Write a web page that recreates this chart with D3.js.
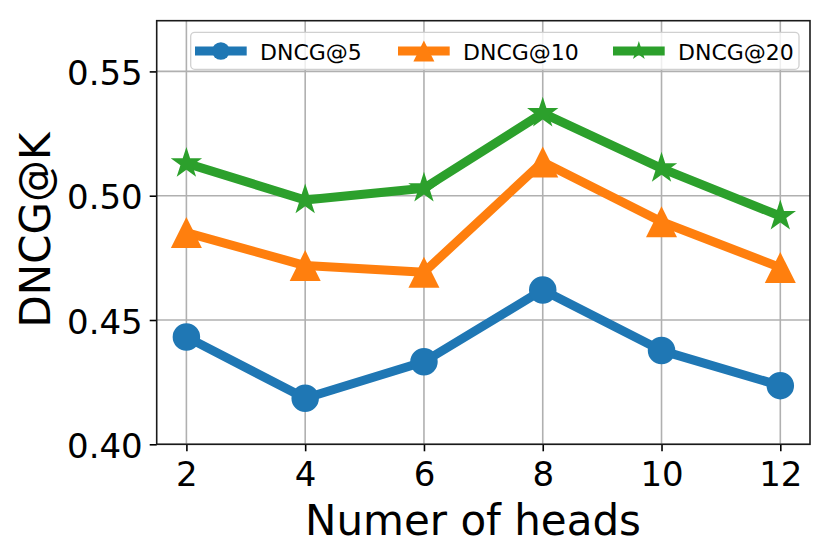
<!DOCTYPE html>
<html><head><meta charset="utf-8">
<script src="https://cdn.jsdelivr.net/npm/d3@7"></script>
<style>body{margin:0;background:#fff}svg{display:block}text{font-family:"DejaVu Sans",sans-serif}</style>
</head><body>
<svg id="c" width="831" height="558"></svg>
<script>
const heads = [2, 4, 6, 8, 10, 12];
const ndcg5 = [0.4432, 0.4185, 0.4332, 0.4621, 0.4377, 0.4236];
const ndcg10 = [0.4852, 0.4719, 0.4692, 0.5136, 0.4895, 0.4711];
const ndcg20 = [0.5130, 0.4983, 0.5030, 0.5332, 0.5110, 0.4918];
const seriesNames = ["DNCG@5", "DNCG@10", "DNCG@20"];
const xTicks = [2, 4, 6, 8, 10, 12];
const yTicks = [0.40, 0.45, 0.50, 0.55];
const xLabel = "Numer of heads";
const yLabel = "DNCG@K";

const colors = ["#1f77b4", "#ff7f0e", "#2ca02c"];
const markers = ["circle", "triangle", "star"];
const svg = d3.select("#c");
const L = 156.7, R = 810, T = 20.7, B = 444.3;
const x = d3.scaleLinear().domain([1.5, 12.5]).range([L, R]);
const y = d3.scaleLinear().domain([0.40, 0.5704]).range([B, T]);

function markerPath(type, s) {
  if (type === "circle") {
    const r = s / 2;
    return `M${r},0A${r},${r} 0 1,1 ${-r},0A${r},${r} 0 1,1 ${r},0Z`;
  }
  if (type === "triangle") {
    const h = s / 2;
    return `M0,${-h}L${h},${h}L${-h},${h}Z`;
  }
  const Ro = s / 2, Ri = Ro * 0.381966;
  let p = "";
  for (let i = 0; i < 10; i++) {
    const r = i % 2 ? Ri : Ro;
    const a = -Math.PI / 2 + i * Math.PI / 5;
    p += (i ? "L" : "M") + (r * Math.cos(a)).toFixed(2) + "," + (r * Math.sin(a)).toFixed(2);
  }
  return p + "Z";
}
const mSize = { circle: 27.5, triangle: 31, star: 33 };
const legSize = { circle: 17.7, triangle: 21, star: 20 };

// grid
const grid = svg.append("g");
grid.selectAll("line.gx").data(xTicks).join("line")
  .attr("x1", d => x(d)).attr("x2", d => x(d)).attr("y1", T).attr("y2", B)
  .attr("stroke", "#b0b0b0").attr("stroke-width", 1.6);
grid.selectAll("line.gy").data(yTicks).join("line")
  .attr("y1", d => y(d)).attr("y2", d => y(d)).attr("x1", L).attr("x2", R)
  .attr("stroke", "#b0b0b0").attr("stroke-width", 1.6);

// series
const data = [ndcg5, ndcg10, ndcg20];
const line = d3.line().x(d => x(d[0])).y(d => y(d[1]));
data.forEach((vals, i) => {
  const pts = heads.map((h, j) => [h, vals[j]]);
  const g = svg.append("g");
  g.append("path").attr("d", line(pts)).attr("fill", "none")
    .attr("stroke", colors[i]).attr("stroke-width", 9).attr("stroke-linejoin", "round").attr("stroke-linecap", "square");
  g.selectAll("path.m").data(pts).join("path").attr("class", "m")
    .attr("transform", d => `translate(${x(d[0])},${y(d[1])})`)
    .attr("d", markerPath(markers[i], mSize[markers[i]]))
    .attr("fill", colors[i]);
});

// axes
const xAxis = d3.axisBottom(x).tickValues(xTicks).tickSize(7).tickPadding(6).tickFormat(d3.format("d"));
const yAxis = d3.axisLeft(y).tickValues(yTicks).tickSize(7).tickPadding(8).tickFormat(d3.format(".2f"));
const gx = svg.append("g").attr("transform", `translate(0,${B})`).call(xAxis);
const gy = svg.append("g").attr("transform", `translate(${L},0)`).call(yAxis);
[gx, gy].forEach(g => {
  g.select(".domain").remove();
  g.selectAll(".tick line").attr("stroke", "#000").attr("stroke-width", 1.6);
  g.selectAll(".tick text").attr("font-size", 34).attr("fill", "#000").attr("font-family", "DejaVu Sans");
});
gx.selectAll(".tick text").attr("dy", null).attr("y", 42);
gy.selectAll(".tick text").attr("dy", null).attr("y", 13).attr("x", -14);

svg.append("rect").attr("x", L).attr("y", T).attr("width", R - L).attr("height", B - T)
  .attr("fill", "none").attr("stroke", "#1a1a1a").attr("stroke-width", 1.6);

// labels
svg.append("text").attr("x", 473).attr("y", 535).attr("text-anchor", "middle")
  .attr("font-size", 42).text(xLabel);
svg.append("text").attr("transform", "translate(50,230) rotate(-90)").attr("text-anchor", "middle")
  .attr("font-size", 42).text(yLabel);

// legend
const leg = svg.append("g");
leg.append("rect").attr("x", 190.7).attr("y", 32.3).attr("width", 799 - 190.7).attr("height", 37)
  .attr("rx", 4).attr("fill", "#fff").attr("fill-opacity", 0.8).attr("stroke", "#d0d0d0").attr("stroke-width", 1.3);
const legX = [195, 398, 613];
const legY = 51;
seriesNames.forEach((name, i) => {
  const x0 = legX[i];
  leg.append("line").attr("x1", x0).attr("x2", x0 + 51.7).attr("y1", legY).attr("y2", legY)
    .attr("stroke", colors[i]).attr("stroke-width", 9);
  leg.append("path").attr("transform", `translate(${x0 + 25.85},${legY})`)
    .attr("d", markerPath(markers[i], legSize[markers[i]])).attr("fill", colors[i]);
  leg.append("text").attr("x", x0 + 65).attr("y", legY + 8.5).attr("font-size", 22).text(name);
});
</script>
</body></html>
